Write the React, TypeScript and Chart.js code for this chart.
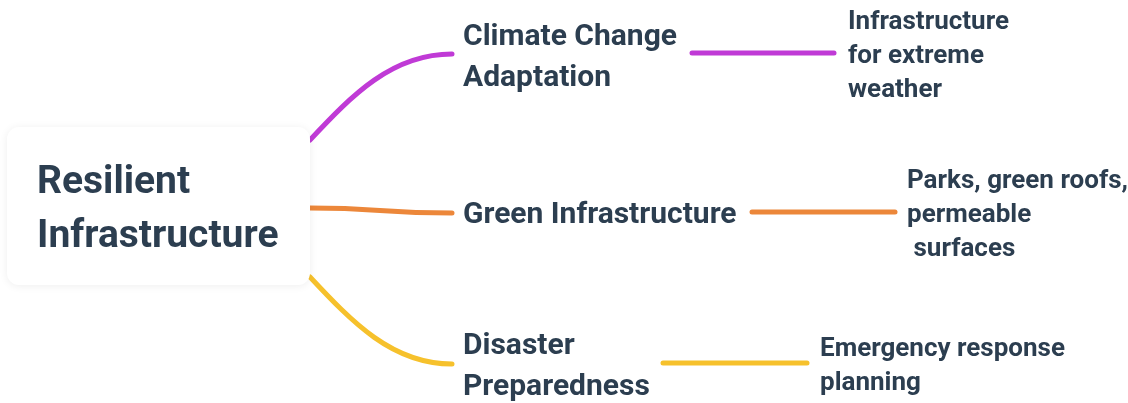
import React, { useEffect, useRef } from "react";
import { Chart, registerables } from "chart.js";

Chart.register(...registerables);

const CANVAS_W = 1128;
const CANVAS_H = 403;

// Node texts
const rootLines = ["Resilient", "Infrastructure"];
const branchLabels = [
  ["Climate Change", "Adaptation"],
  ["Green Infrastructure"],
  ["Disaster", "Preparedness"],
];
const leafLabels = [
  ["Infrastructure", "for extreme", "weather"],
  ["Parks, green roofs,", "permeable", " surfaces"],
  ["Emergency response", "planning"],
];
const branchColors = ["#c03ad6", "#ec873a", "#f6c12c"];

// Layout (in canvas units, mapped through the chart's scales)
const rootBox = { x0: 7, y0: 127, x1: 310, y1: 285, r: 12 };
const rootText = { x: 37, y: 193, lh: 54, size: 39 };
const branchX = [463, 463, 463];
const branchBaseY = [45, 223, 354];
const branchLH = 41;
const branchSize = 30;
const leafX = [848, 907, 820];
const leafBaseY = [29, 188, 356];
const leafLH = 34;
const leafSize = 26;
// curves root -> branch: [start, c1, c2, end]
const curveStart = [
  [310, 140],
  [310, 208],
  [310, 277],
];
const curveC1 = [
  [352, 95],
  [380, 208],
  [352, 322],
];
const curveC2 = [
  [392, 54],
  [380, 213],
  [392, 364],
];
const curveEnd = [
  [452, 54],
  [452, 213],
  [452, 364],
];
// straight branch -> leaf connectors
const linkX0 = [692, 752, 663];
const linkX1 = [834, 895, 807];
const linkY = [53, 212, 363];

const FONT = "Roboto, 'Noto Sans', sans-serif";
const TEXT_COLOR = "#2c3e50";

const mindmapPlugin = {
  id: "mindmap",
  afterDraw(chart: any) {
    const ctx = chart.ctx as CanvasRenderingContext2D;
    const xs = chart.scales.x;
    const ys = chart.scales.y;
    const X = (v: number) => xs.getPixelForValue(v);
    const Y = (v: number) => ys.getPixelForValue(v);
    ctx.save();
    ctx.lineCap = "round";
    ctx.lineWidth = 5;
    // curves
    for (let i = 0; i < branchColors.length; i++) {
      ctx.strokeStyle = branchColors[i];
      ctx.beginPath();
      ctx.moveTo(X(curveStart[i][0]), Y(curveStart[i][1]));
      ctx.bezierCurveTo(
        X(curveC1[i][0]), Y(curveC1[i][1]),
        X(curveC2[i][0]), Y(curveC2[i][1]),
        X(curveEnd[i][0]), Y(curveEnd[i][1])
      );
      ctx.stroke();
      ctx.beginPath();
      ctx.moveTo(X(linkX0[i]), Y(linkY[i]));
      ctx.lineTo(X(linkX1[i]), Y(linkY[i]));
      ctx.stroke();
    }
    // root box
    const bx = X(rootBox.x0), by = Y(rootBox.y0);
    const bw = X(rootBox.x1) - bx, bh = Y(rootBox.y1) - by;
    ctx.save();
    ctx.shadowColor = "rgba(0,0,0,0.07)";
    ctx.shadowBlur = 8;
    ctx.shadowOffsetY = 1;
    ctx.fillStyle = "#ffffff";
    ctx.beginPath();
    (ctx as any).roundRect(bx, by, bw, bh, rootBox.r);
    ctx.fill();
    ctx.restore();
    // text
    ctx.fillStyle = TEXT_COLOR;
    ctx.textBaseline = "alphabetic";
    ctx.textAlign = "left";
    ctx.font = `700 ${rootText.size}px ${FONT}`;
    rootLines.forEach((t, j) => ctx.fillText(t, X(rootText.x), Y(rootText.y + j * rootText.lh)));
    ctx.font = `700 ${branchSize}px ${FONT}`;
    branchLabels.forEach((lines, i) =>
      lines.forEach((t, j) => ctx.fillText(t, X(branchX[i]), Y(branchBaseY[i] + j * branchLH)))
    );
    ctx.font = `700 ${leafSize}px ${FONT}`;
    leafLabels.forEach((lines, i) =>
      lines.forEach((t, j) => ctx.fillText(t, X(leafX[i]), Y(leafBaseY[i] + j * leafLH)))
    );
    ctx.restore();
  },
};

export default function App() {
  const ref = useRef<HTMLCanvasElement>(null);
  useEffect(() => {
    document.body.style.margin = "0";
    const chart = new Chart(ref.current!, {
      type: "scatter",
      data: { datasets: [{ data: [], pointRadius: 0 }] },
      options: {
        animation: false,
        responsive: false,
        devicePixelRatio: 1,
        layout: { padding: 0 },
        plugins: { legend: { display: false }, tooltip: { enabled: false } },
        scales: {
          x: { type: "linear", min: 0, max: CANVAS_W, display: false },
          y: { type: "linear", min: 0, max: CANVAS_H, reverse: true, display: false },
        },
      },
      plugins: [mindmapPlugin],
    });
    return () => chart.destroy();
  }, []);
  return (
    <div style={{ position: "absolute", left: 0, top: 0, width: CANVAS_W, height: CANVAS_H, background: "#fff" }}>
      <canvas ref={ref} width={CANVAS_W} height={CANVAS_H} />
    </div>
  );
}
